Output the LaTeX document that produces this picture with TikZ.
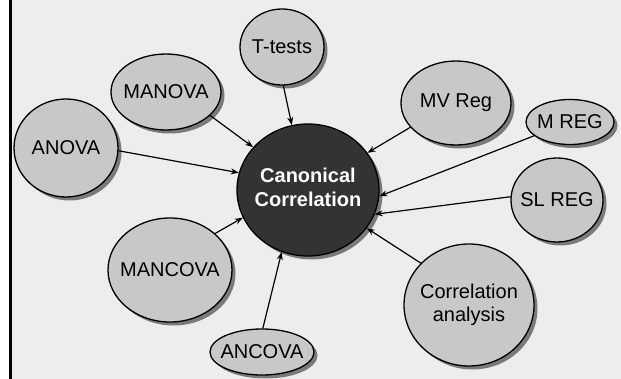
\documentclass[tikz,border=0pt]{standalone}
\usepackage{fontspec}
\setmainfont{Liberation Sans}
\usepackage{xcolor}
\usepackage{tikz}
\usetikzlibrary{shapes.geometric,shadows,arrows.meta}
\definecolor{paper}{HTML}{EDEDED}
\definecolor{bubfill}{HTML}{C8C8C8}
\definecolor{corefill}{HTML}{333333}
\definecolor{shade}{HTML}{7A7A7A}
\newcommand{\inbub}[1]{\makebox[0pt]{#1}}
\tikzset{
  bub/.style={ellipse, draw=black, line width=1.3pt, fill=bubfill, inner sep=0pt,
    font=\fontsize{20}{24}\selectfont, text=black,
    drop shadow={shadow xshift=3.5pt, shadow yshift=-3.5pt, fill=shade, opacity=1}},
  core/.style={bub, fill=corefill, text=white, font=\fontsize{20}{25}\selectfont\bfseries},
  arr/.style={draw=black, line width=1.2pt, -{Stealth[length=8pt,width=6pt]}},
}

\begin{document}
\begin{tikzpicture}[x=1pt, y=-1pt]
  \useasboundingbox (0,0) rectangle (621,379);
  \fill[paper] (10,0) rectangle (621,379);
  \draw[black, line width=3pt] (10.5,0) -- (10.5,379);

  % centre
  \node[core, minimum width=142, minimum height=132] (cc) at (308,190)
    {\inbub{\begin{tabular}{@{}c@{}}Canonical\\[-1pt]Correlation\end{tabular}}};

  % surrounding methods
  \node[bub, minimum width=84, minimum height=76] (ttest) at (282,47) {\inbub{T-tests}};
  \node[bub, minimum width=110, minimum height=76] (manova) at (166,92) {\inbub{MANOVA}};
  \node[bub, minimum width=104, minimum height=98] (anova) at (66,148) {\inbub{ANOVA}};
  \node[bub, minimum width=110, minimum height=84] (mvreg) at (456,103) {\inbub{MV Reg}};
  \node[bub, minimum width=88, minimum height=45] (mreg) at (570,122) {\inbub{M REG}};
  \node[bub, minimum width=92, minimum height=84] (slreg) at (557,200) {\inbub{SL REG}};
  \node[bub, minimum width=130, minimum height=122] (corran) at (469,305)
    {\inbub{\begin{tabular}{@{}c@{}}Correlation\\[-1pt]analysis\end{tabular}}};
  \node[bub, minimum width=104, minimum height=46] (ancova) at (262,352) {\inbub{ANCOVA}};
  \node[bub, minimum width=124, minimum height=104] (mancova) at (170,270) {\inbub{MANCOVA}};

  \draw[arr] (ttest.272) -- (cc.104);
  \draw[arr] (manova.-28) -- (cc.142);
  \draw[arr] (anova.-3) -- (cc.166);
  \draw[arr] (mvreg.208) -- (cc.32);
  \draw[arr] (mreg.201) -- (cc.-5);
  \draw[arr] (slreg.176) -- (cc.-20);
  \draw[arr] (corran.139) -- (cc.-33);
  \draw[arr] (ancova.88) -- (cc.-113);
  \draw[arr] (mancova.39) -- (cc.203);
\end{tikzpicture}
\end{document}
